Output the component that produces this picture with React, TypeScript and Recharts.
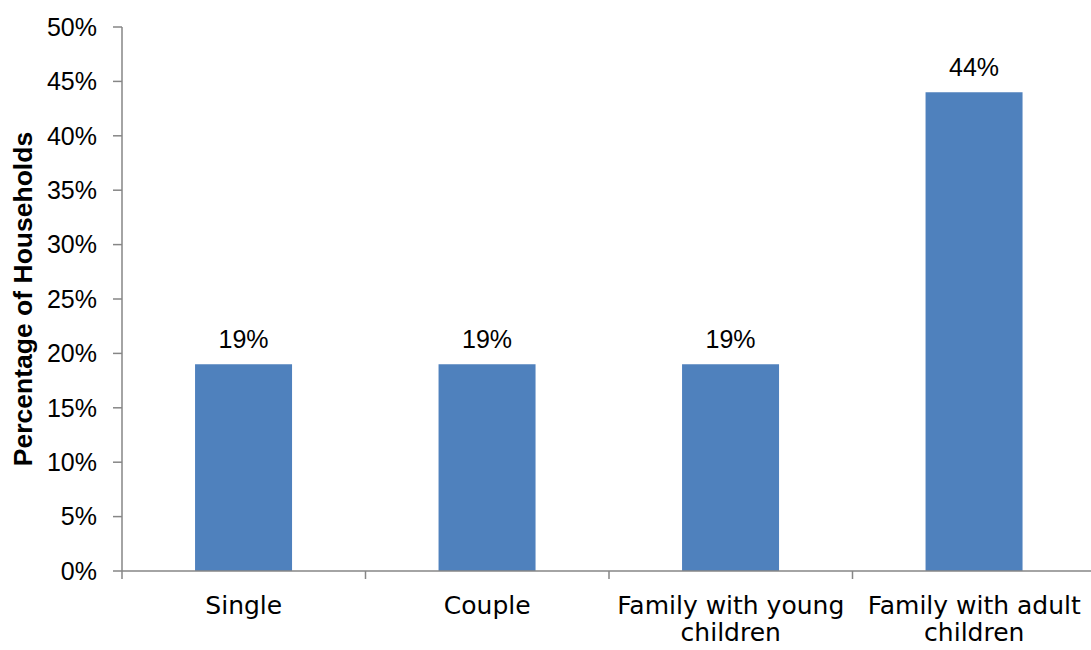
import React from "react";
import {
	BarChart,
	Bar,
	XAxis,
	YAxis,
	LabelList,
} from "recharts";

const categories = ["Single", "Couple", "Family with young children", "Family with adult children"];
const shares = [19, 19, 19, 44];
const yTicks = [0, 5, 10, 15, 20, 25, 30, 35, 40, 45, 50];

// long category names wrap onto two lines
const tickLines: Record<string, string[]> = {
	"Single": ["Single"],
	"Couple": ["Couple"],
	"Family with young children": ["Family with young", "children"],
	"Family with adult children": ["Family with adult", "children"],
};

const data = categories.map((name, i) => ({ name, value: shares[i] }));

const TEXT_FONT = "'DejaVu Sans', sans-serif";
const NUM_FONT = "'Liberation Sans', Arial, sans-serif";
const AXIS = "#868686";

const CHART_W = 1100;
const Y_AXIS_W = 122;
const MARGIN_RIGHT = 4;
const HALF_BAND = (CHART_W - Y_AXIS_W - MARGIN_RIGHT) / categories.length / 2;

const CategoryTick = (props: any) => {
	const { x, y, payload, index } = props;
	const lines = tickLines[payload.value] || [payload.value];
	const axisY = y - 2;
	return (
		<g>
			{/* small marks between categories */}
			<line x1={x - HALF_BAND} x2={x - HALF_BAND} y1={axisY} y2={axisY + 8} stroke={AXIS} strokeWidth={1.5} />
			{index === categories.length - 1 && (
				<line x1={x + HALF_BAND} x2={x + HALF_BAND} y1={axisY} y2={axisY + 8} stroke={AXIS} strokeWidth={1.5} />
			)}
			<text x={x} y={axisY + 43} textAnchor="middle" fontFamily={TEXT_FONT} fontSize={25} fill="#000">
				{lines.map((l, i) => (
					<tspan key={i} x={x} dy={i === 0 ? 0 : 27}>
						{l}
					</tspan>
				))}
			</text>
		</g>
	);
};

const App = () => {
	return (
		<div style={{ width: 1091, height: 650, overflow: "hidden" }}>
			<style>{"body{margin:0}"}</style>
			<BarChart
				width={CHART_W}
				height={650}
				data={data}
				margin={{ top: 27, right: MARGIN_RIGHT, bottom: 0, left: 0 }}
				barCategoryGap="30%"
			>
				<XAxis
					dataKey="name"
					height={79}
					stroke={AXIS}
					strokeWidth={1.5}
					tickSize={0}
					tick={<CategoryTick />}
					interval={0}
				/>
				<YAxis
					width={Y_AXIS_W}
					domain={[0, 50]}
					ticks={yTicks}
					tickFormatter={(v: number) => `${v}%`}
					stroke={AXIS}
					strokeWidth={1.5}
					tickSize={9}
					tickMargin={16}
					interval={0}
					tick={{ fill: "#000", fontSize: 25, fontFamily: NUM_FONT }}
					label={{
						value: "Percentage of Households",
						angle: -90,
						position: "insideLeft",
						offset: 23,
						style: {
							textAnchor: "middle",
							fontFamily: NUM_FONT,
							fontWeight: "bold",
							fontSize: 26.5,
							fill: "#000",
						},
					}}
				/>
				<Bar dataKey="value" fill="#4F81BD" isAnimationActive={false}>
					<LabelList
						dataKey="value"
						position="top"
						offset={16}
						formatter={(v: any) => `${v}%`}
						style={{ fontFamily: NUM_FONT, fontSize: 25, fill: "#000" }}
					/>
				</Bar>
			</BarChart>
		</div>
	);
};

export default App;
